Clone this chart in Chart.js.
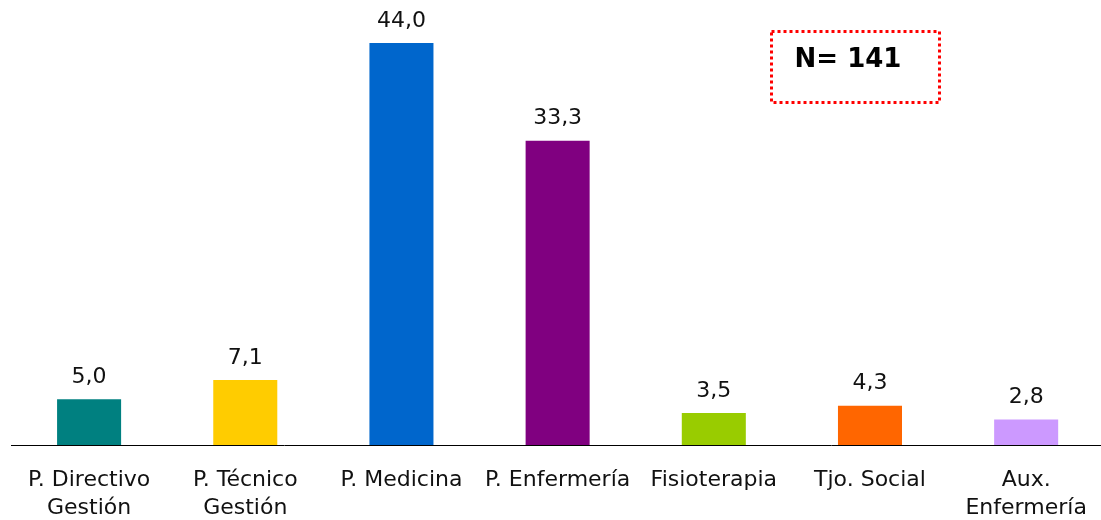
<!DOCTYPE html>
<html lang="es">
<head>
    <meta charset="UTF-8">
    <title>Distribución por categoría profesional</title>
    <script src="https://cdn.jsdelivr.net/npm/chart.js"></script>
    <style>
        html, body {
            margin: 0;
            padding: 0;
            background: #fff;
            overflow: hidden;
        }
        .chart-container {
            width: 1108px;
            height: 520px;
        }
    </style>
</head>
<body>
    <div class="chart-container">
        <canvas id="chart"></canvas>
    </div>

    <script>
        // Porcentaje por categoría profesional
        const categories = [
            ['P. Directivo', 'Gestión'],
            ['P. Técnico', 'Gestión'],
            'P. Medicina',
            'P. Enfermería',
            'Fisioterapia',
            'Tjo. Social',
            ['Aux.', 'Enfermería']
        ];
        const percentages = [5.0, 7.1, 44.0, 33.3, 3.5, 4.3, 2.8];
        const barColors = ['#008080', '#FFCC00', '#0066CC', '#800080', '#99CC00', '#FF6600', '#CC99FF'];
        const sampleLabel = 'N= 141';

        const FONT = '"DejaVu Sans", Verdana, sans-serif';

        // valores encima de cada barra, con coma decimal
        const valueLabels = {
            id: 'valueLabels',
            afterDatasetsDraw(chart) {
                const ctx = chart.ctx;
                const meta = chart.getDatasetMeta(0);
                ctx.save();
                ctx.font = '22px ' + FONT;
                ctx.fillStyle = '#111';
                ctx.textAlign = 'center';
                ctx.textBaseline = 'middle';
                meta.data.forEach((bar, i) => {
                    const txt = percentages[i].toFixed(1).replace('.', ',');
                    ctx.fillText(txt, bar.x, bar.y - 22);
                });
                ctx.restore();
            }
        };

        // recuadro punteado con el tamaño de la muestra
        const sampleBox = {
            id: 'sampleBox',
            afterDraw(chart) {
                const ctx = chart.ctx;
                ctx.save();
                ctx.strokeStyle = '#FF0000';
                ctx.lineWidth = 3;
                ctx.setLineDash([3, 3]);
                ctx.strokeRect(771.5, 31.5, 168, 71);
                ctx.setLineDash([]);
                ctx.font = 'bold 26px ' + FONT;
                ctx.fillStyle = '#000';
                ctx.textAlign = 'center';
                ctx.textBaseline = 'middle';
                ctx.fillText(sampleLabel, 848, 60);
                ctx.restore();
            }
        };

        const ctx = document.getElementById('chart').getContext('2d');
        new Chart(ctx, {
            type: 'bar',
            data: {
                labels: categories,
                datasets: [{
                    data: percentages,
                    backgroundColor: barColors,
                    borderWidth: 0,
                    barPercentage: 0.41,
                    categoryPercentage: 1
                }]
            },
            options: {
                responsive: true,
                maintainAspectRatio: false,
                animation: false,
                layout: {
                    padding: { left: 11, right: 2, top: 0, bottom: 0 }
                },
                plugins: {
                    legend: { display: false },
                    tooltip: { enabled: false }
                },
                scales: {
                    x: {
                        grid: { display: false, drawTicks: false },
                        border: { display: true, color: '#000', width: 1 },
                        ticks: {
                            color: '#111',
                            padding: 21,
                            maxRotation: 0,
                            autoSkip: false,
                            font: { family: FONT, size: 22, lineHeight: 28 / 22 }
                        },
                        afterFit(scale) {
                            scale.height = 75;
                        }
                    },
                    y: {
                        display: false,
                        min: 0,
                        max: 48.7
                    }
                }
            },
            plugins: [valueLabels, sampleBox]
        });
    </script>
</body>
</html>
